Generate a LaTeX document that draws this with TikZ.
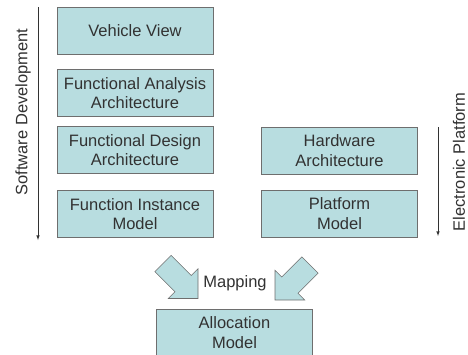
\documentclass[tikz,border=0pt]{standalone}
\usepackage{fontspec}
\setmainfont{Liberation Sans}

\definecolor{boxfill}{RGB}{184,221,224}
\definecolor{boxline}{RGB}{110,110,110}
\definecolor{inkgray}{RGB}{50,50,50}

\begin{document}
\begin{tikzpicture}[
    x=1pt, y=-1pt,
    every node/.style={font=\fontsize{16.5}{19.5}\selectfont, text=inkgray},
    layer/.style={draw=boxline, line width=0.8pt, fill=boxfill,
        minimum width=156pt, minimum height=47pt, inner sep=0pt, align=center},
    flow/.style={draw=inkgray, line width=0.6pt, -latex},
    mapfill/.style={draw=boxline, line width=0.6pt, fill=boxfill, line join=miter},
    maparrow/.pic={
        \draw[mapfill] (0,-11.5) -- (28.5,-11.5) -- (28.5,-21) -- (49.5,0)
            -- (28.5,21) -- (28.5,11.5) -- (0,11.5) -- cycle;
    }
]
\useasboundingbox (0,0) rectangle (468,354);
\clip (0,0) rectangle (468,354);

% software side
\node[layer] (vehicle) at (135,30.5) {Vehicle View};
\node[layer] (fanalysis) at (135,93) {Functional Analysis\\Architecture};
\node[layer] (fdesign) at (135,150) {Functional Design\\Architecture};
\node[layer] (finstance) at (135,214) {Function Instance\\Model};

% platform side
\node[layer] (hardware) at (339.5,150.5) {Hardware\\Architecture};
\node[layer] (platform) at (339.5,213.5) {Platform\\Model};

% allocation
\node[layer] (allocation) at (234.5,332.5) {Allocation\\Model};
\node (mapping) at (235,283) {Mapping};
\pic[rotate=-45] at (163,263.5) {maparrow};
\pic[rotate=-135] at (310,265) {maparrow};

% development axes
\coordinate (swtop) at (38,7);
\coordinate (swbot) at (38,240);
\coordinate (eptop) at (438,127);
\coordinate (epbot) at (438,236);
\draw[flow] (swtop) -- (swbot);
\draw[flow] (eptop) -- (epbot);
\node[rotate=90] (swlabel) at (23,112) {Software Development};
\node[rotate=90] (eplabel) at (459,162) {Electronic Platform};

\end{tikzpicture}
\end{document}
